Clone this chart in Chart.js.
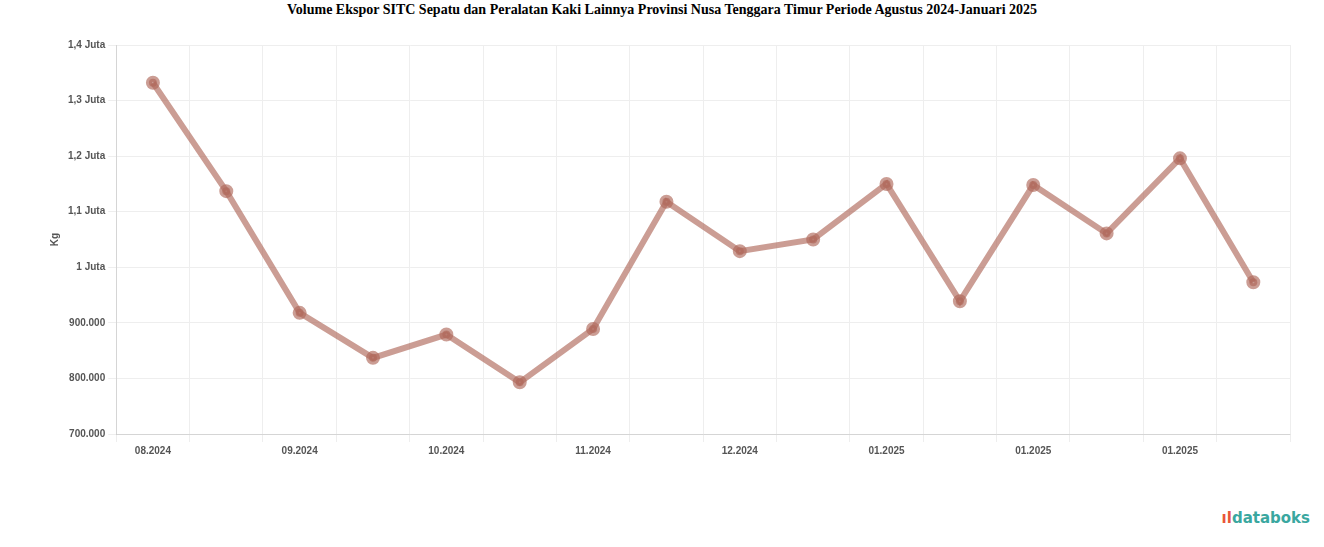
<!DOCTYPE html>
<html><head><meta charset="utf-8">
<script src="https://cdn.jsdelivr.net/npm/chart.js@4"></script>
<style>body{margin:0;background:#fff;font-family:"Liberation Serif";}
#t{position:absolute;top:2px;left:0;width:1324px;text-align:center;font:bold 14px "Liberation Serif";}
#c{position:absolute;left:0;top:35px;width:1300px;height:425px;}
#logo{position:absolute;right:14px;bottom:20px;font:bold 15px "DejaVu Sans";color:#3aa7a0;}
#logo span{color:#e9553a;}</style></head><body>
<div id="t">Volume Ekspor SITC Sepatu dan Peralatan Kaki Lainnya Provinsi Nusa Tenggara Timur Periode Agustus 2024-Januari 2025</div>
<div id="c"><canvas id="cv"></canvas></div>
<div id="logo"><span>ıl</span>databoks</div>
<script>
const categories=["01.08.2024","15.08.2024","01.09.2024","15.09.2024","01.10.2024","15.10.2024","01.11.2024","15.11.2024","01.12.2024","15.12.2024","01.01.2025","08.01.2025","15.01.2025","22.01.2025","29.01.2025","31.01.2025"];
const tickLabels=["08.2024","","09.2024","","10.2024","","11.2024","","12.2024","","01.2025","","01.2025","","01.2025",""];
const values=[1332000,1137000,918000,837000,879000,793000,889000,1118000,1029000,1050000,1150000,939000,1148000,1061000,1196000,973000];
new Chart(document.getElementById('cv'),{type:'line',
data:{labels:categories,datasets:[{data:values,borderColor:'rgba(175,105,90,0.65)',backgroundColor:'rgba(175,105,90,0.65)',borderWidth:6,pointRadius:4,tension:0}]},
options:{responsive:true,maintainAspectRatio:false,animation:false,plugins:{legend:{display:false},tooltip:{enabled:false}},
layout:{padding:{left:45,right:10,top:7}},
scales:{x:{offset:true,grid:{color:'#eee',offset:true},ticks:{autoSkip:false,maxRotation:0,color:'#555',font:{size:10,weight:'bold'},callback:(v,i)=>tickLabels[i]}},
y:{min:700000,max:1400000,grid:{color:'#eee'},ticks:{stepSize:100000,color:'#555',font:{size:10,weight:'bold'},callback:v=>v>=1000000?(v/1000000).toLocaleString('id-ID')+' Juta':v.toLocaleString('id-ID')},
title:{display:true,text:'Kg',color:'#555',font:{size:10,weight:'bold'}}}}}});
</script></body></html>
